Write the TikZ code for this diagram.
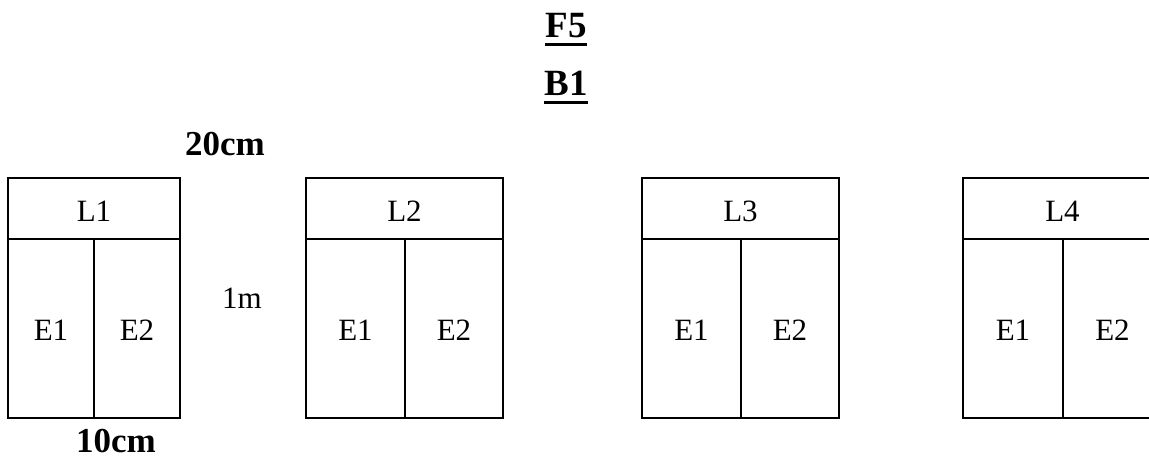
\documentclass[tikz,border=0pt]{standalone}
\usepackage{fontspec}
\setmainfont{Liberation Serif}
\begin{document}
\begin{tikzpicture}[x=1pt,y=-1pt,
  box/.style={draw=black,line width=1.5pt},
  lbl/.style={font=\fontsize{31}{33}\selectfont,inner sep=0pt,anchor=base},
  bold/.style={font=\fontsize{35}{37}\selectfont\bfseries,inner sep=0pt,anchor=base},
  ttl/.style={font=\fontsize{37}{39}\selectfont\bfseries,inner sep=0pt,anchor=base},
  uline/.style={line width=3pt}]
\useasboundingbox (0,0) rectangle (1149,456);
\clip (0,0) rectangle (1149,456);
% titles
\node[ttl] (f5) at (566,37) {F5};
\draw[uline] ([yshift=-7.5pt]f5.base west) -- ([yshift=-7.5pt]f5.base east);
\node[ttl] (b1) at (566,95) {B1};
\draw[uline] ([yshift=-7.5pt]b1.base west) -- ([yshift=-7.5pt]b1.base east);
\node[bold] (w20) at (225,155) {20cm};
\node[bold,text depth=0pt] (w10) at (116,452) {10cm};
\node[lbl] (m1) at (242,308) {1m};
% boxes
\foreach \i/\xa/\xm/\xb in {1/8/94/180, 2/306/405/503, 3/642/741/839, 4/963/1063/1162}{
  \draw[box] (\xa,178) rectangle (\xb,418);
  \draw[box] (\xa,239) -- (\xb,239);
  \draw[box] (\xm,239) -- (\xm,418);
  \node[lbl] (l\i) at ({(\xa+\xb)/2},221) {L\i};
  \node[lbl] (e\i a) at ({(\xa+\xm)/2},340) {E1};
  \node[lbl] (e\i b) at ({(\xm+\xb)/2},340) {E2};
}
\end{tikzpicture}
\end{document}
